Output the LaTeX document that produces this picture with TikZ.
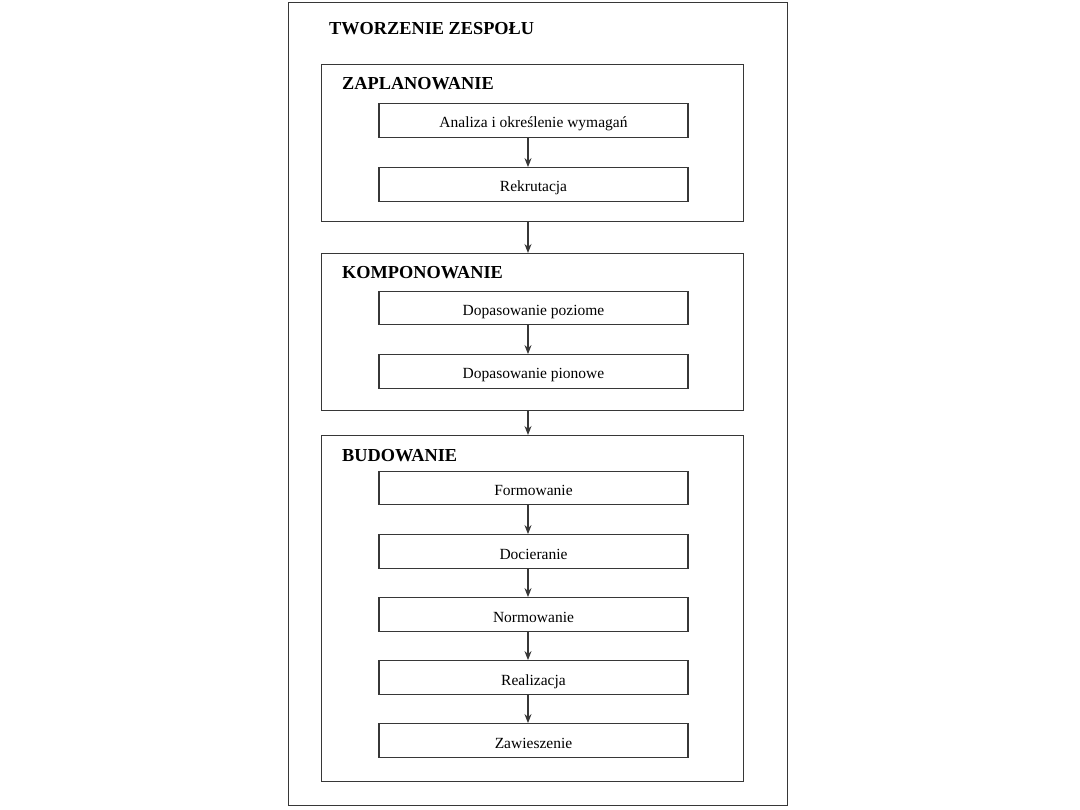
\documentclass[tikz,border=0pt]{standalone}
\usepackage{fontspec}
\setmainfont{Liberation Serif}
\usetikzlibrary{arrows.meta, positioning}
\definecolor{framegray}{RGB}{55,55,55}

\begin{document}
\begin{tikzpicture}[x=1pt, y=-1pt,
    frame/.style={draw=framegray, line width=1.3pt, inner sep=0pt},
    stagebox/.style={frame, minimum width=422pt, anchor=north west},
    stepbox/.style={frame, minimum width=309pt, minimum height=33.5pt,
        text height=15pt, text depth=0pt,
        font=\fontsize{15.5}{18}\selectfont},
    heading/.style={anchor=base west, inner sep=0pt,
        font=\fontsize{18.3}{21}\selectfont\bfseries},
    flow/.style={draw=framegray, line width=1.2pt, -{Stealth[length=9pt,width=7pt]}}]
    \useasboundingbox (0,0) rectangle (1080,810);

    % outer frame
    \node[frame, anchor=north west, minimum width=499pt, minimum height=803pt] (team) at (288,2) {};
    \node[heading] (teamtitle) at (329,35) {TWORZENIE ZESPOŁU};

    % Zaplanowanie
    \node[stagebox, minimum height=157pt] (plan) at (321,64) {};
    \node[heading] (plantitle) at (342,90) {ZAPLANOWANIE};
    \node[stepbox] (analiza) at (533.5,120.5) {Analiza i określenie wymagań};
    \node[stepbox] (rekrut) at (533.5,184.5) {Rekrutacja};

    % Komponowanie
    \node[stagebox, minimum height=157pt] (komp) at (321,253) {};
    \node[heading] (komptitle) at (342,279) {KOMPONOWANIE};
    \node[stepbox] (poziom) at (533.5,308) {Dopasowanie poziome};
    \node[stepbox] (pion) at (533.5,371.5) {Dopasowanie pionowe};

    % Budowanie
    \node[stagebox, minimum height=346pt] (bud) at (321,435) {};
    \node[heading] (budtitle) at (342,461) {BUDOWANIE};
    \node[stepbox] (form) at (533.5,488) {Formowanie};
    \node[stepbox] (docier) at (533.5,551.5) {Docieranie};
    \node[stepbox] (norm) at (533.5,614.5) {Normowanie};
    \node[stepbox] (real) at (533.5,677.5) {Realizacja};
    \node[stepbox] (zaw) at (533.5,740.5) {Zawieszenie};

    % arrows
    \coordinate (axis) at (528,0);
    \foreach \a/\b in {analiza/rekrut, plan/komp, poziom/pion, komp/bud,
                       form/docier, docier/norm, norm/real, real/zaw}
        \draw[flow] (\a.south -| axis) -- (\b.north -| axis);
\end{tikzpicture}
\end{document}
